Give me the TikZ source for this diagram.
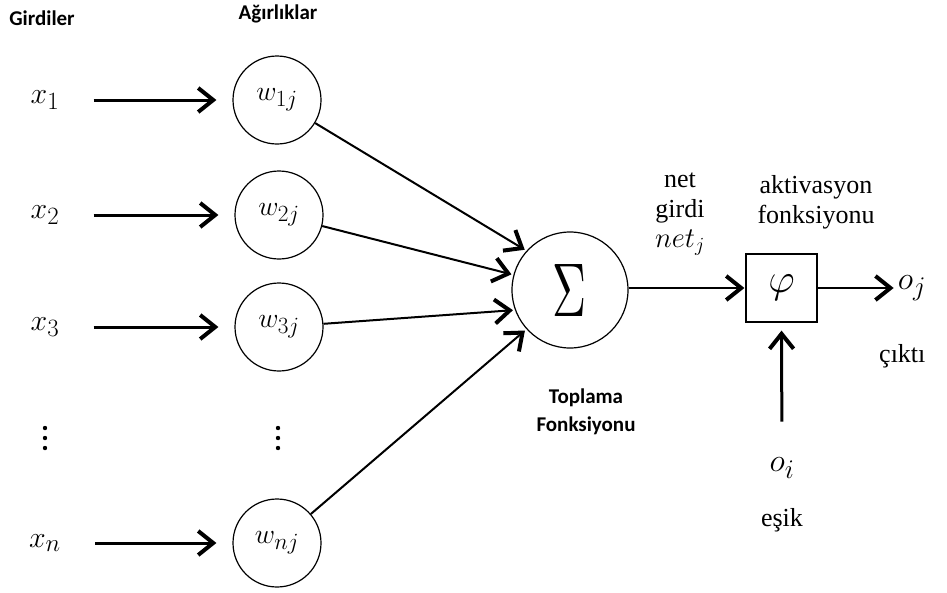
\RequirePackage{fix-cm}
\documentclass[tikz,border=0pt]{standalone}
\usepackage{fontspec}
\usepackage{graphicx}
\setmainfont{Liberation Serif}
\newfontfamily\lblfont{Carlito}
\usetikzlibrary{arrows.meta}
\newcommand{\mathbig}[2]{\scalebox{#1}{$#2$}}
\begin{document}
\begin{tikzpicture}[x=1pt,y=-1pt,
  bigmath/.style={font=\fontsize{24.88}{30}\selectfont, inner sep=0pt},
  serif/.style={font=\fontsize{26}{30}\selectfont, inner sep=0pt, align=center},
  bold/.style={font=\lblfont\bfseries\fontsize{21}{28}\selectfont, inner sep=0pt, align=center},
  wnode/.style={circle, draw, line width=1.2pt, minimum size=88pt, inner sep=0pt, font=\fontsize{24.88}{30}\selectfont},
  tip/.style={-{Straight Barb[length=15pt,width=24pt,line width=4pt]}},
  inarrow/.style={tip, line width=3pt},
  warrow/.style={tip, line width=2pt, shorten >=2pt},
  dotstyle/.style={fill=black}
]
\useasboundingbox (0,0) rectangle (947,592);

% headers
\node[bold] (girdiler) at (42,18) {Girdiler};
\node[bold] (agirlik) at (278,14) {Ağırlıklar};

% inputs
\node[bigmath] (x1) at (45,100) {\mathbig{1.2}{x_1}};
\node[bigmath] (x2) at (45,215) {\mathbig{1.2}{x_2}};
\node[bigmath] (x3) at (45,327) {\mathbig{1.2}{x_3}};
\node[bigmath] (xn) at (45,543) {\mathbig{1.2}{x_n}};
\foreach \yy in {428,438,448} {
  \fill[dotstyle] (45,\yy) circle (2.2pt);
  \fill[dotstyle] (278,\yy) circle (2.2pt);
}

% weights
\node[wnode] (w1) at (277,100) {\mathbig{1.12}{w_{1j}}};
\node[wnode] (w2) at (279,215) {\mathbig{1.12}{w_{2j}}};
\node[wnode] (w3) at (279,327) {\mathbig{1.12}{w_{3j}}};
\node[wnode] (wn) at (277,543) {\mathbig{1.12}{w_{nj}}};

% sum
\node[circle, draw, line width=1.2pt, minimum size=116pt, inner sep=0pt] (sig) at (570,290)
  {\resizebox{34pt}{52pt}{$\Sigma$}};
\node[bold] (topl) at (586,412) {Toplama\\Fonksiyonu};

% activation
\node[draw, line width=1.2pt, minimum width=71pt, minimum height=68pt, inner sep=0pt,
      font=\fontsize{24.88}{30}\selectfont] (phi) at (781.5,288) {\mathbig{1.65}{\varphi}};
\node[serif] (net) at (680,214) {net\\girdi\\\mathbig{1.1}{net_j}};
\node[serif] (akt) at (816,202) {aktivasyon\\fonksiyonu};

% output
\node[bigmath] (oj) at (912,288) {\mathbig{1.3}{o_j}};
\node[serif, anchor=west] (cikti) at (879,356) {çıktı};

% threshold
\node[bigmath] (oi) at (782,468) {\mathbig{1.3}{o_i}};
\node[serif] (esik) at (782,520) {eşik};

% input arrows
\draw[inarrow, shorten <=34pt, shorten >=16pt] (x1) -- (w1);
\draw[inarrow, shorten <=34pt, shorten >=16pt] (x2) -- (w2);
\draw[inarrow, shorten <=34pt, shorten >=16pt] (x3) -- (w3);
\draw[inarrow, shorten <=34pt, shorten >=16pt] (xn) -- (wn);

% weight to sum
\draw[warrow] (w1) -- (sig.138);
\draw[warrow] (w2) -- (sig.165);
\draw[warrow] (w3) -- (sig.200);
\draw[warrow] (wn) -- (sig.222);

% sum to activation
\draw[tip, line width=2.5pt, shorten >=1pt] (sig.east |- phi) -- (phi.west);
\draw[tip, line width=2.5pt, shorten >=4pt] (phi.east) -- (oj.west);
\draw[tip, line width=3pt, shorten <=36pt, shorten >=8pt] (oi) -- (phi.south);
\end{tikzpicture}
\end{document}
